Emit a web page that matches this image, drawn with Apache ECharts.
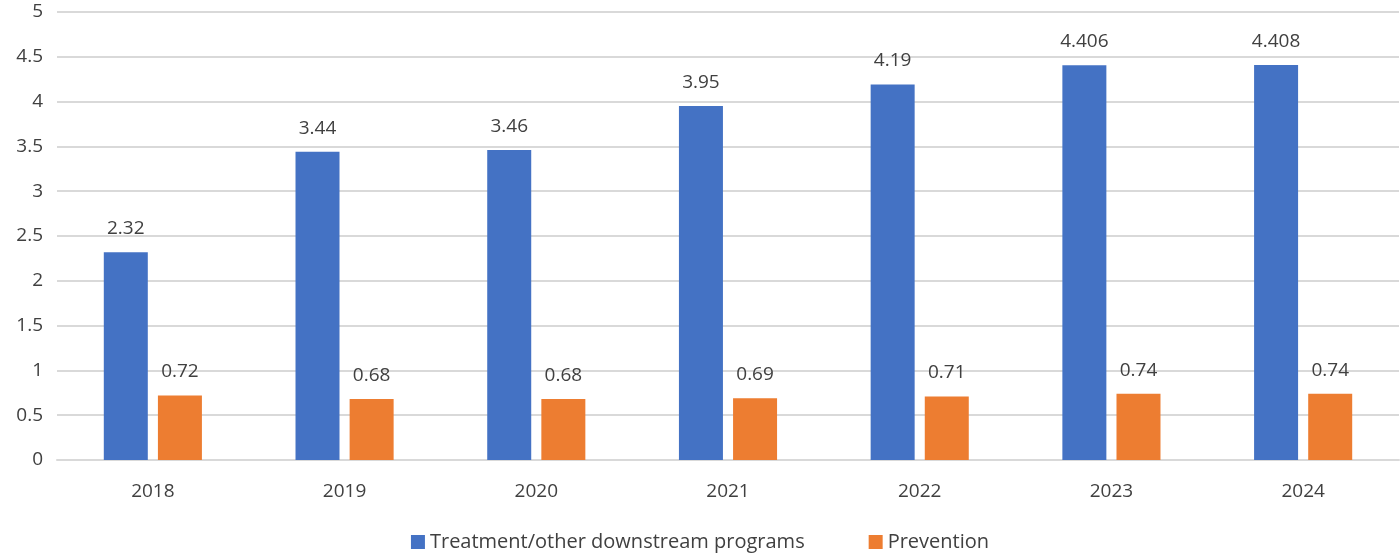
<!DOCTYPE html>
<html>
<head>
<meta charset="utf-8">
<script src="https://cdn.jsdelivr.net/npm/echarts@6/dist/echarts.min.js"></script>
<style>
  html, body { margin: 0; padding: 0; background: #fff; }
  #chart { width: 1400px; height: 557px; }
</style>
</head>
<body>
<div id="chart"></div>
<script>
var years = ['2018', '2019', '2020', '2021', '2022', '2023', '2024'];
var treatment = [2.32, 3.44, 3.46, 3.95, 4.19, 4.406, 4.408];
var prevention = [0.72, 0.68, 0.68, 0.69, 0.71, 0.74, 0.74];

var chart = echarts.init(document.getElementById('chart'));
var txt = '#404040';
var fontFam = '"Open Sans", "Liberation Sans", sans-serif';

chart.setOption({
  animation: false,
  textStyle: { fontFamily: fontFam },
  grid: { left: 57, right: 1, top: 12, bottom: 97 },
  legend: {
    bottom: 0,
    left: 'center',
    itemWidth: 14,
    itemHeight: 14,
    itemGap: 64,
    icon: 'rect',
    textStyle: { fontSize: 20, color: txt, fontFamily: fontFam }
  },
  xAxis: {
    type: 'category',
    data: years,
    axisLine: { lineStyle: { color: '#d9d9d9', width: 2 } },
    axisTick: { show: false },
    axisLabel: { fontSize: 19, color: txt, margin: 22 }
  },
  yAxis: {
    type: 'value',
    min: 0,
    max: 5,
    interval: 0.5,
    axisLine: { show: false },
    axisTick: { show: false },
    splitLine: { lineStyle: { color: '#d9d9d9', width: 2 } },
    axisLabel: { fontSize: 19, color: txt, margin: 14 }
  },
  series: [
    {
      name: 'Treatment/other downstream programs',
      type: 'bar',
      data: treatment,
      barWidth: 44,
      barGap: '23%',
      itemStyle: { color: '#4472c4' },
      label: { show: true, position: 'top', distance: 14, fontSize: 19, color: txt }
    },
    {
      name: 'Prevention',
      type: 'bar',
      data: prevention,
      barWidth: 44,
      itemStyle: { color: '#ed7d31' },
      label: { show: true, position: 'top', distance: 14, fontSize: 19, color: txt }
    }
  ]
});
</script>
</body>
</html>
